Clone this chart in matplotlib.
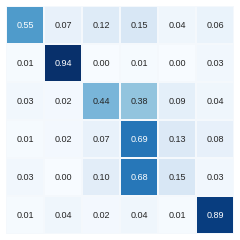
import matplotlib
matplotlib.use("Agg")
import matplotlib.pyplot as plt
import numpy as np
import seaborn as sns

row0 = [0.55, 0.07, 0.12, 0.15, 0.04, 0.06]
row1 = [0.01, 0.94, 0.00, 0.01, 0.00, 0.03]
row2 = [0.03, 0.02, 0.44, 0.38, 0.09, 0.04]
row3 = [0.01, 0.02, 0.07, 0.69, 0.13, 0.08]
row4 = [0.03, 0.00, 0.10, 0.68, 0.15, 0.03]
row5 = [0.01, 0.04, 0.02, 0.04, 0.01, 0.89]

plt.rcParams["font.family"] = ["Liberation Sans", "DejaVu Sans"]
mat = np.array([row0, row1, row2, row3, row4, row5])

fig = plt.figure(figsize=(2.4, 2.4), dpi=100)
ax = fig.add_axes([6 / 240, 6 / 240, 228 / 240, 228 / 240])
# color range follows the data (seaborn default)
sns.heatmap(mat, ax=ax, cmap="Blues", annot=True, fmt=".2f",
            annot_kws={"fontsize": 6.5}, cbar=False, linewidths=0.2,
            linecolor="#f4f8fc", xticklabels=False, yticklabels=False)
fig.savefig("out.png", dpi=100)
